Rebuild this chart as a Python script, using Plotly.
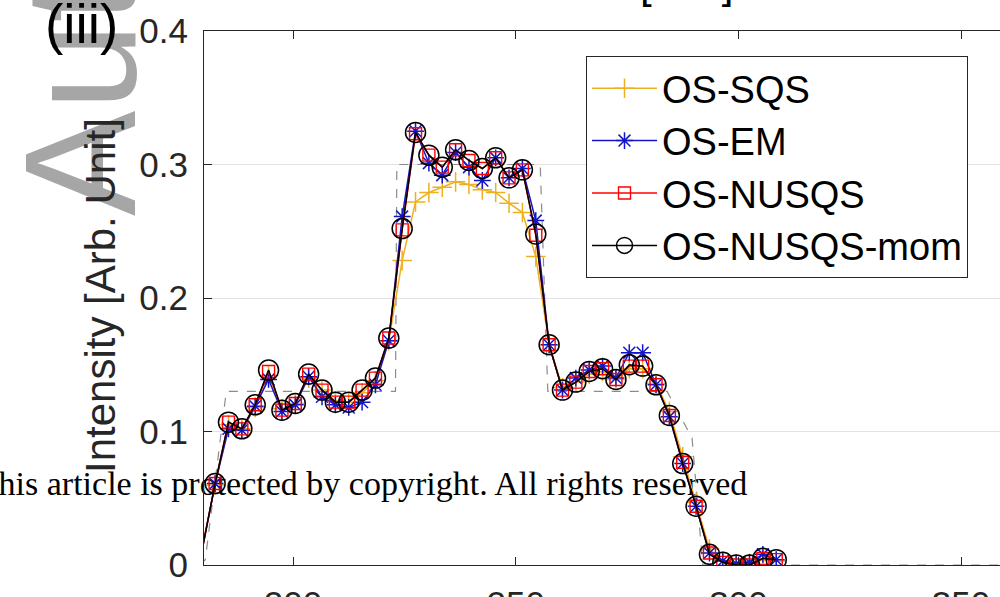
import plotly.graph_objects as go

# ---- profile samples (position, intensity) ----
pos = [179.5, 182.5, 185.5, 188.5, 191.5, 194.5, 197.5, 200.5, 203.5, 206.5,
       209.5, 212.5, 215.5, 218.5, 221.5, 224.5, 227.5, 230.5, 233.5, 236.5,
       239.5, 242.5, 245.5, 248.5, 251.5, 254.5, 257.5, 260.5, 263.5, 266.5,
       269.5, 272.5, 275.5, 278.5, 281.5, 284.5, 287.5, 290.5, 293.5, 296.5,
       299.5, 302.5, 305.5, 308.5]

os_sqs = [0.012, 0.060, 0.105, 0.102, 0.118, 0.142, 0.117, 0.121, 0.140, 0.131,
          0.123, 0.122, 0.129, 0.138, 0.168, 0.228, 0.272, 0.279, 0.283, 0.287,
          0.285, 0.281, 0.279, 0.271, 0.264, 0.231, 0.165, 0.133, 0.137, 0.143,
          0.145, 0.139, 0.147, 0.147, 0.136, 0.115, 0.081, 0.047, 0.012, 0.003,
          0.001, 0.001, 0.004, 0.003]

os_em = [0.010, 0.061, 0.102, 0.101, 0.119, 0.139, 0.115, 0.120, 0.141, 0.126,
         0.120, 0.118, 0.122, 0.135, 0.168, 0.261, 0.325, 0.301, 0.292, 0.309,
         0.298, 0.288, 0.305, 0.290, 0.297, 0.258, 0.165, 0.131, 0.140, 0.146,
         0.149, 0.140, 0.159, 0.159, 0.135, 0.111, 0.076, 0.044, 0.009, 0.003,
         0.001, 0.002, 0.008, 0.004]

os_nusqs = [0.010, 0.061, 0.107, 0.102, 0.120, 0.145, 0.116, 0.121, 0.143, 0.131,
            0.122, 0.122, 0.131, 0.140, 0.170, 0.251, 0.323, 0.307, 0.298, 0.311,
            0.303, 0.297, 0.305, 0.290, 0.296, 0.247, 0.165, 0.131, 0.137, 0.145,
            0.147, 0.139, 0.149, 0.149, 0.135, 0.112, 0.077, 0.044, 0.009, 0.002,
            0.000, 0.000, 0.005, 0.004]

os_nusqs_mom = [0.010, 0.061, 0.107, 0.102, 0.120, 0.146, 0.116, 0.121, 0.143, 0.131,
                0.122, 0.122, 0.131, 0.140, 0.170, 0.252, 0.324, 0.307, 0.298, 0.311,
                0.303, 0.297, 0.305, 0.290, 0.296, 0.248, 0.165, 0.131, 0.137, 0.145,
                0.147, 0.139, 0.150, 0.149, 0.135, 0.112, 0.076, 0.044, 0.008, 0.002,
                0.000, 0.000, 0.005, 0.004]

# reference (true) profile
truth_pos = [179.0, 180.3, 185.0, 223.0, 223.3, 255.5, 257.2, 284.0, 289.6, 291.3, 292.0, 360.0]
truth_val = [0.0, 0.004, 0.13, 0.13, 0.30, 0.30, 0.13, 0.13, 0.095, 0.03, 0.0, 0.0]

x_ticks = [200, 250, 300, 350]
y_ticks = [0, 0.1, 0.2, 0.3, 0.4]

SANS = "Liberation Sans, Arial, sans-serif"
AX = "#262626"

# plot-area geometry in pixels (figure 1000 x 597)
L, R, T, B = 204, 1000, 31, 565
X0 = 180.0
PX_PER_UNIT = 4.4533
X1 = X0 + (R - L) / PX_PER_UNIT


def px(xp):
    return (xp - L) / (R - L)


def py(yp):
    return (B - yp) / (B - T)


fig = go.Figure()

# copyright line sits underneath the curves
fig.add_trace(go.Scatter(
    x=[302.0], y=[0.059], mode="text",
    text=["This article is protected by copyright. All rights reserved"],
    textposition="middle left",
    textfont=dict(family="Liberation Serif, Times New Roman, serif", size=34, color="black"),
    cliponaxis=False, showlegend=False, hoverinfo="skip"))

fig.add_trace(go.Scatter(
    x=truth_pos, y=truth_val, mode="lines",
    line=dict(color="#8c8c8c", width=1.2, dash="dash"),
    showlegend=False, hoverinfo="skip"))

series = [
    ("OS-SQS", os_sqs, "#EDB120", "cross-thin-open", 14, 1.5),
    ("OS-EM", os_em, "#1414c8", "asterisk-open", 14, 1.5),
    ("OS-NUSQS", os_nusqs, "#ff0000", "square-open", 12, 1.4),
    ("OS-NUSQS-mom", os_nusqs_mom, "#000000", "circle-open", 20, 1.5),
]
for i, (name, vals, col, sym, size, mlw) in enumerate(series):
    fig.add_trace(go.Scatter(
        x=pos, y=vals, name=name, mode="lines+markers",
        line=dict(color=col, width=1.5),
        marker=dict(symbol=sym, size=size, color=col, line=dict(color=col, width=mlw)),
        legendgroup=f"g{i}"))

annotations = [
    # vertical watermark along the left margin
    dict(text="Author Manuscript", textangle=-90, xref="paper", yref="paper",
         x=px(80), y=py(218), xanchor="center", yanchor="bottom", showarrow=False,
         font=dict(family=SANS, size=158, color="#a6a6a6")),
    dict(text="Intensity [Arb. Unit]", textangle=-90, xref="paper", yref="paper",
         x=px(100), y=py(295), xanchor="center", yanchor="middle", showarrow=False,
         font=dict(family=SANS, size=42, color=AX)),
    dict(text="(iii)", xref="paper", yref="paper",
         x=px(81.5), y=py(24), xanchor="center", yanchor="middle", showarrow=False,
         font=dict(family=SANS, size=55, color="black")),
    dict(text="Position [mm]", xref="paper", yref="paper",
         x=px(606), y=py(-17), xanchor="center", yanchor="middle", showarrow=False,
         font=dict(family=SANS, size=42, color="black")),
]

fig.update_layout(
    width=1000, height=597,
    margin=dict(l=L, r=1000 - R, t=T, b=597 - B, pad=0, autoexpand=False),
    paper_bgcolor="white", plot_bgcolor="white",
    font=dict(family=SANS, color=AX),
    showlegend=True,
    legend=dict(x=px(586), y=py(56), xanchor="left", yanchor="top",
                bgcolor="white", bordercolor=AX, borderwidth=1,
                font=dict(family=SANS, size=38, color="black"),
                traceorder="grouped", tracegroupgap=0, itemwidth=65),
    annotations=annotations,
    xaxis=dict(range=[X0, X1], tickvals=x_ticks, ticks="inside", ticklen=8,
               tickcolor=AX, showline=True, linecolor=AX, linewidth=1,
               mirror="ticks", showgrid=False, zeroline=False, automargin=False,
               ticklabelstandoff=8,
               tickfont=dict(family=SANS, size=35, color=AX)),
    yaxis=dict(range=[0, 0.4], tickvals=y_ticks, ticks="inside", ticklen=8,
               tickcolor=AX, showline=True, linecolor=AX, linewidth=1,
               showgrid=True, gridcolor="#e2e2e2", gridwidth=1, zeroline=False,
               automargin=False, ticklabelstandoff=8,
               tickfont=dict(family=SANS, size=35, color=AX)),
)

fig.write_html("out.html")
